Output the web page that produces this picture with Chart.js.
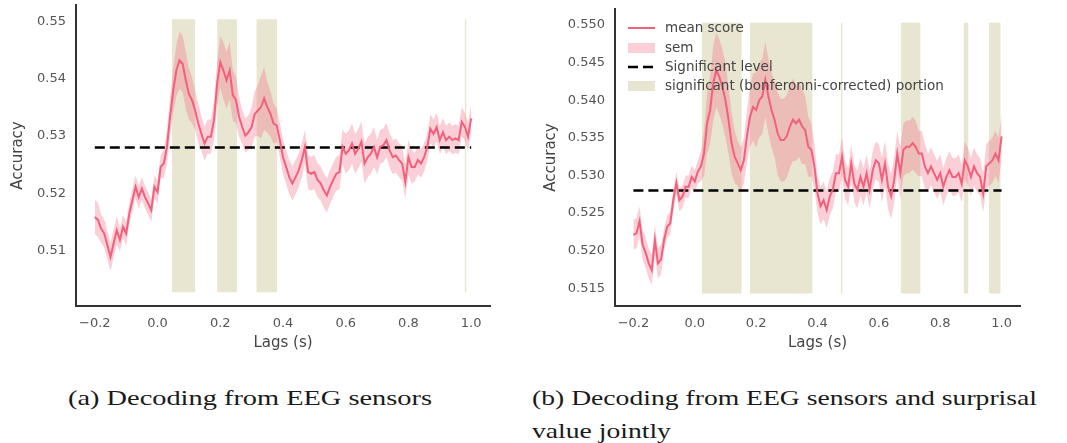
<!DOCTYPE html>
<html>
<head>
<meta charset="utf-8">
<script src="https://cdn.jsdelivr.net/npm/chart.js@4.4.0/dist/chart.umd.min.js"></script>
<style>
    body { margin: 0; background: #fff; width: 1067px; height: 443px; overflow: hidden; position: relative; }
    .panel { position: absolute; top: 0; height: 370px; }
    #panelA { left: 0; width: 530px; }
    #panelB { left: 530px; width: 537px; }
    .cap { position: absolute; font-family: 'Liberation Serif', serif; font-size: 22px; line-height: 22px;
           color: #1a1a1a; white-space: nowrap; transform-origin: 0 0; }
</style>
</head>
<body>
<div class="panel" id="panelA"><canvas id="chartA" width="530" height="370"></canvas></div>
<div class="panel" id="panelB"><canvas id="chartB" width="537" height="370"></canvas></div>
<div class="cap" id="capA" style="left:68px;top:387px">(a) Decoding from EEG sensors</div>
<div class="cap" id="capB1" style="left:532px;top:387px">(b) Decoding from EEG sensors and surprisal</div>
<div class="cap" id="capB2" style="left:532px;top:420px">value jointly</div>
<script>
// lags (s)
const lags = [
    -0.20,-0.19,-0.18,-0.17,-0.16,-0.15,-0.14,-0.13,-0.12,-0.11,
    -0.10,-0.09,-0.08,-0.07,-0.06,-0.05,-0.04,-0.03,-0.02,-0.01,
    0.00,0.01,0.02,0.03,0.04,0.05,0.06,0.07,0.08,0.09,
    0.10,0.11,0.12,0.13,0.14,0.15,0.16,0.17,0.18,0.19,
    0.20,0.21,0.22,0.23,0.24,0.25,0.26,0.27,0.28,0.29,
    0.30,0.31,0.32,0.33,0.34,0.35,0.36,0.37,0.38,0.39,
    0.40,0.41,0.42,0.43,0.44,0.45,0.46,0.47,0.48,0.49,
    0.50,0.51,0.52,0.53,0.54,0.55,0.56,0.57,0.58,0.59,
    0.60,0.61,0.62,0.63,0.64,0.65,0.66,0.67,0.68,0.69,
    0.70,0.71,0.72,0.73,0.74,0.75,0.76,0.77,0.78,0.79,
    0.80,0.81,0.82,0.83,0.84,0.85,0.86,0.87,0.88,0.89,
    0.90,0.91,0.92,0.93,0.94,0.95,0.96,0.97,0.98,0.99,1.00
];

// (a) EEG sensors
const meanA = [
    0.5158,0.5153,0.5138,0.5129,0.5109,0.5088,0.5112,0.5135,0.5118,0.5141,
    0.5129,0.5164,0.5188,0.5211,0.5193,0.5208,0.5193,0.5182,0.5170,0.5211,
    0.5202,0.5246,0.5252,0.5281,0.5334,0.5380,0.5415,0.5433,0.5427,0.5398,
    0.5374,0.5363,0.5345,0.5322,0.5304,0.5287,0.5299,0.5299,0.5328,0.5392,
    0.5430,0.5415,0.5398,0.5415,0.5372,0.5363,0.5334,0.5316,0.5301,0.5307,
    0.5316,0.5339,0.5345,0.5351,0.5366,0.5351,0.5339,0.5322,0.5319,0.5293,
    0.5263,0.5246,0.5228,0.5217,0.5228,0.5240,0.5258,0.5281,0.5237,0.5234,
    0.5237,0.5223,0.5217,0.5205,0.5196,0.5211,0.5223,0.5234,0.5237,0.5281,
    0.5269,0.5275,0.5287,0.5269,0.5278,0.5290,0.5252,0.5263,0.5269,0.5281,
    0.5263,0.5281,0.5284,0.5293,0.5275,0.5263,0.5266,0.5258,0.5252,0.5220,
    0.5263,0.5246,0.5246,0.5258,0.5252,0.5263,0.5281,0.5313,0.5304,0.5316,
    0.5293,0.5307,0.5293,0.5299,0.5293,0.5296,0.5293,0.5325,0.5316,0.5299,0.5331
];
const semA = [
    0.0030,0.0030,0.0025,0.0025,0.0025,0.0025,0.0025,0.0025,0.0020,0.0020,
    0.0020,0.0020,0.0020,0.0020,0.0020,0.0020,0.0020,0.0020,0.0020,0.0020,
    0.0020,0.0020,0.0025,0.0030,0.0035,0.0040,0.0045,0.0050,0.0050,0.0050,
    0.0045,0.0040,0.0035,0.0035,0.0030,0.0030,0.0030,0.0030,0.0035,0.0040,
    0.0045,0.0050,0.0050,0.0050,0.0045,0.0040,0.0035,0.0030,0.0030,0.0030,
    0.0035,0.0040,0.0045,0.0055,0.0055,0.0045,0.0040,0.0035,0.0030,0.0030,
    0.0030,0.0030,0.0030,0.0030,0.0030,0.0030,0.0030,0.0030,0.0030,0.0030,
    0.0030,0.0030,0.0030,0.0030,0.0030,0.0030,0.0030,0.0030,0.0030,0.0030,
    0.0035,0.0035,0.0035,0.0035,0.0035,0.0035,0.0035,0.0035,0.0035,0.0035,
    0.0030,0.0030,0.0030,0.0030,0.0030,0.0030,0.0030,0.0030,0.0030,0.0030,
    0.0030,0.0030,0.0025,0.0025,0.0025,0.0025,0.0025,0.0025,0.0025,0.0025,
    0.0025,0.0025,0.0025,0.0025,0.0025,0.0025,0.0025,0.0025,0.0025,0.0025,0.0025
];
const spansA = [[0.046, 0.120], [0.190, 0.254], [0.315, 0.382], [0.979, 0.985]];
const spanRangeA = [0.5026, 0.5505];
const yTicksA = [0.51, 0.52, 0.53, 0.54, 0.55];
const yLabelsA = ['0.51', '0.52', '0.53', '0.54', '0.55'];

// (b) EEG sensors + surprisal
const meanB = [
    0.5221,0.5223,0.5239,0.5208,0.5197,0.5183,0.5174,0.5214,0.5183,0.5188,
    0.5214,0.5232,0.5236,0.5267,0.5290,0.5267,0.5272,0.5285,0.5285,0.5298,
    0.5292,0.5305,0.5312,0.5329,0.5369,0.5387,0.5422,0.5440,0.5431,0.5418,
    0.5400,0.5374,0.5343,0.5325,0.5316,0.5307,0.5320,0.5352,0.5378,0.5391,
    0.5387,0.5400,0.5405,0.5427,0.5405,0.5387,0.5374,0.5356,0.5347,0.5347,
    0.5352,0.5365,0.5374,0.5369,0.5374,0.5365,0.5360,0.5338,0.5334,0.5312,
    0.5276,0.5259,0.5267,0.5254,0.5272,0.5281,0.5303,0.5303,0.5325,0.5294,
    0.5285,0.5316,0.5289,0.5281,0.5298,0.5285,0.5303,0.5281,0.5307,0.5320,
    0.5316,0.5294,0.5316,0.5285,0.5272,0.5294,0.5329,0.5303,0.5334,0.5338,
    0.5338,0.5343,0.5338,0.5329,0.5329,0.5312,0.5303,0.5312,0.5303,0.5294,
    0.5303,0.5285,0.5298,0.5307,0.5298,0.5298,0.5303,0.5289,0.5320,0.5312,
    0.5298,0.5312,0.5303,0.5298,0.5276,0.5312,0.5316,0.5320,0.5329,0.5320,0.5352
];
const semB = [
    0.0020,0.0020,0.0020,0.0020,0.0020,0.0020,0.0020,0.0020,0.0020,0.0020,
    0.0015,0.0015,0.0015,0.0015,0.0015,0.0015,0.0015,0.0015,0.0015,0.0015,
    0.0015,0.0015,0.0020,0.0030,0.0040,0.0045,0.0050,0.0050,0.0050,0.0050,
    0.0050,0.0045,0.0040,0.0035,0.0030,0.0030,0.0030,0.0035,0.0040,0.0045,
    0.0050,0.0050,0.0050,0.0050,0.0050,0.0050,0.0050,0.0055,0.0055,0.0055,
    0.0055,0.0055,0.0055,0.0050,0.0050,0.0050,0.0045,0.0040,0.0035,0.0030,
    0.0025,0.0025,0.0025,0.0025,0.0025,0.0025,0.0025,0.0025,0.0025,0.0025,
    0.0025,0.0025,0.0025,0.0025,0.0025,0.0025,0.0025,0.0025,0.0025,0.0025,
    0.0025,0.0030,0.0030,0.0030,0.0030,0.0030,0.0030,0.0035,0.0035,0.0035,
    0.0035,0.0035,0.0035,0.0030,0.0030,0.0030,0.0025,0.0025,0.0025,0.0025,
    0.0025,0.0025,0.0025,0.0025,0.0025,0.0025,0.0025,0.0025,0.0025,0.0025,
    0.0025,0.0025,0.0025,0.0025,0.0025,0.0030,0.0030,0.0030,0.0030,0.0030,0.0030
];
const spansB = [[0.023, 0.153], [0.179, 0.384], [0.476, 0.482], [0.671, 0.736], [0.876, 0.892], [0.958, 0.997]];
const spanRangeB = [0.5143, 0.5503];
const yTicksB = [0.515, 0.520, 0.525, 0.530, 0.535, 0.540, 0.545, 0.550];
const yLabelsB = ['0.515', '0.520', '0.525', '0.530', '0.535', '0.540', '0.545', '0.550'];

// shared
const sigLevel = 0.528;
const sigRange = [-0.2, 1.0];
const xTicks = [-0.2, 0.0, 0.2, 0.4, 0.6, 0.8, 1.0];
const xTickLabels = ['\u22120.2', '0.0', '0.2', '0.4', '0.6', '0.8', '1.0'];
const legendLabels = ['mean score', 'sem', 'Significant level', 'significant (bonferonni-corrected) portion'];

const lineColor = '#f2607b';
const semColor = 'rgba(242, 96, 123, 0.3)';
const spanColor = '#e8e6d0';
const tickColor = '#555';
const font = 'DejaVu Sans';

// legend drawn inside the plot area (matplotlib style, no frame)
const insideLegend = {
    id: 'insideLegend',
    afterDraw(chart) {
        const opts = chart.options.plugins.insideLegend;
        if (!opts || !opts.show) return;
        const ctx = chart.ctx, a = chart.chartArea;
        const x0 = a.left + 13, x1 = x0 + 27, tx = x1 + 10;
        const rows = [19, 39, 58, 77].map(d => a.top + d);
        ctx.save();
        // mean score
        ctx.strokeStyle = lineColor; ctx.lineWidth = 2;
        ctx.beginPath(); ctx.moveTo(x0, rows[0]); ctx.lineTo(x1, rows[0]); ctx.stroke();
        // sem
        ctx.fillStyle = semColor; ctx.fillRect(x0, rows[1] - 5, x1 - x0, 10);
        // significant level
        ctx.strokeStyle = '#000'; ctx.lineWidth = 2.5; ctx.setLineDash([10, 5]);
        ctx.beginPath(); ctx.moveTo(x0, rows[2]); ctx.lineTo(x1, rows[2]); ctx.stroke();
        ctx.setLineDash([]);
        // portion
        ctx.fillStyle = spanColor; ctx.fillRect(x0, rows[3] - 5, x1 - x0, 10);
        ctx.fillStyle = '#444';
        ctx.font = '13.5px "' + font + '"';
        ctx.textBaseline = 'middle';
        legendLabels.forEach((t, i) => ctx.fillText(t, tx, rows[i]));
        ctx.restore();
    }
};

function makeChart(id, p) {
    const pts = arr => lags.map((x, i) => ({ x: x, y: arr[i] }));
    const datasets = [
        { data: pts(p.mean), borderColor: lineColor, borderWidth: 2, pointRadius: 0, fill: false, order: 0 },
        { data: [{ x: sigRange[0], y: sigLevel }, { x: sigRange[1], y: sigLevel }],
          borderColor: '#000', borderWidth: 2.5, borderDash: [10, 5], pointRadius: 0, fill: false, order: 1 },
        { data: pts(p.mean.map((m, i) => m + p.sem[i])), borderColor: 'rgba(0,0,0,0)', borderWidth: 0,
          pointRadius: 0, backgroundColor: semColor, fill: '+1', order: 2 },
        { data: pts(p.mean.map((m, i) => m - p.sem[i])), borderColor: 'rgba(0,0,0,0)', borderWidth: 0,
          pointRadius: 0, fill: false, order: 2 }
    ];
    p.spans.forEach(s => {
        datasets.push({
            data: [{ x: s[0], y: p.spanRange[1] }, { x: s[1], y: p.spanRange[1] }],
            borderColor: 'rgba(0,0,0,0)', borderWidth: 0, pointRadius: 0,
            backgroundColor: spanColor, fill: { value: p.spanRange[0] }, order: 3
        });
    });

    return new Chart(document.getElementById(id).getContext('2d'), {
        type: 'line',
        data: { datasets: datasets },
        options: {
            responsive: false,
            animation: false,
            events: [],
            layout: { padding: { left: 0, right: p.rightPad, top: p.topPad, bottom: 0 } },
            plugins: {
                legend: { display: false },
                tooltip: { enabled: false },
                insideLegend: { show: p.legend }
            },
            scales: {
                x: {
                    type: 'linear', min: -0.26, max: 1.06,
                    afterBuildTicks: s => { s.ticks = xTicks.map(v => ({ value: v })); },
                    afterFit: s => { s.height = 64; },
                    grid: { display: false, drawTicks: false },
                    border: { display: true, color: '#333', width: 2 },
                    ticks: { color: tickColor, font: { family: font, size: 13 }, padding: 10,
                             maxRotation: 0, callback: (v, i) => xTickLabels[i] },
                    title: { display: true, text: 'Lags (s)', color: '#444',
                             font: { family: font, size: 15 }, padding: { top: 0, bottom: 18 } }
                },
                y: {
                    type: 'linear', min: p.yMin, max: p.yMax,
                    afterBuildTicks: s => { s.ticks = p.yTicks.map(v => ({ value: v })); },
                    afterFit: s => { s.width = p.yWidth; s.paddingTop = 0; s.paddingBottom = 0; },
                    grid: { display: false, drawTicks: false },
                    border: { display: true, color: '#333', width: 2 },
                    ticks: { color: tickColor, font: { family: font, size: 13 }, padding: 10,
                             callback: (v, i) => p.yLabels[i] },
                    title: { display: true, text: 'Accuracy', color: '#444',
                             font: { family: font, size: 15 }, padding: { top: p.titlePad, bottom: 0 } }
                }
            }
        },
        plugins: [insideLegend]
    });
}

makeChart('chartA', {
    mean: meanA, sem: semA, spans: spansA, spanRange: spanRangeA,
    yMin: 0.5002, yMax: 0.5530, yTicks: yTicksA, yLabels: yLabelsA,
    yWidth: 76, rightPad: 40, topPad: 5, titlePad: 9, legend: false
});
makeChart('chartB', {
    mean: meanB, sem: semB, spans: spansB, spanRange: spanRangeB,
    yMin: 0.51263, yMax: 0.55213, yTicks: yTicksB, yLabels: yLabelsB,
    yWidth: 85, rightPad: 47, topPad: 9, titlePad: 12, legend: true
});

// stretch the serif captions to the widths of the original (Computer Modern is wide)
const capA = document.getElementById('capA');
const capB1 = document.getElementById('capB1');
const capB2 = document.getElementById('capB2');
const kA = 364 / capA.getBoundingClientRect().width;
const kB = 505 / capB1.getBoundingClientRect().width;
capA.style.transform = 'scaleX(' + kA + ')';
capB1.style.transform = 'scaleX(' + kB + ')';
capB2.style.transform = 'scaleX(' + kB + ')';
</script>
</body>
</html>
